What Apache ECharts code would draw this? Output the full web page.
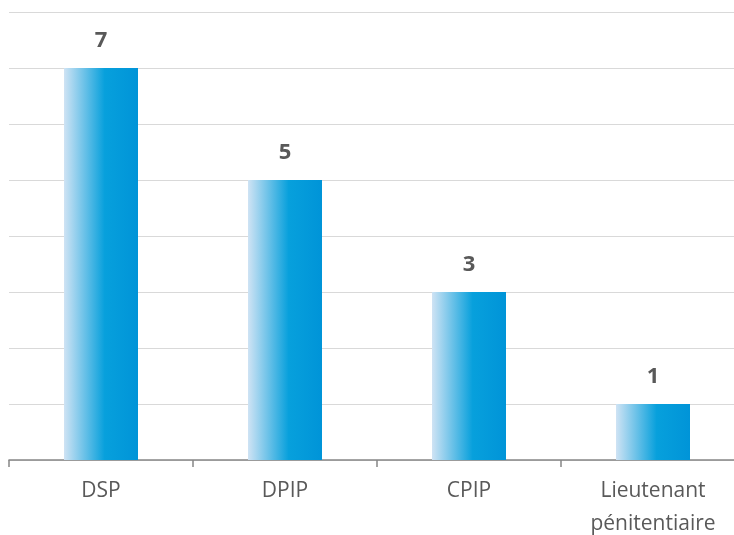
<!DOCTYPE html>
<html><head><meta charset="utf-8">
<script src="https://cdn.jsdelivr.net/npm/echarts@6/dist/echarts.min.js"></script>
<style>html,body{margin:0;padding:0;background:#fff;overflow:hidden}#c{width:734px;height:535px}</style>
</head><body><div id="c"></div>
<script>
const categories = ["DSP", "DPIP", "CPIP", "Lieutenant\npénitentiaire"];
const values = [7, 5, 3, 1];
const yTicks = [0, 1, 2, 3, 4, 5, 6, 7, 8];

const chart = echarts.init(document.getElementById('c'), null, {renderer: 'canvas'});
chart.setOption({
  animation: false,
  grid: {left: 9, top: 12, bottom: 75, width: 736, containLabel: false, outerBoundsMode: 'none'},
  xAxis: {
    type: 'category', data: categories,
    axisLine: {lineStyle: {color: '#868686', width: 1.5}},
    axisTick: {show: true, length: 7, lineStyle: {color: '#868686', width: 1.5}},
    axisLabel: {color: '#595959', fontSize: 21, fontFamily: 'Open Sans', lineHeight: 33, margin: 15}
  },
  yAxis: {
    type: 'value', min: yTicks[0], max: yTicks[yTicks.length - 1], interval: 1,
    axisLine: {show: false}, axisTick: {show: false}, axisLabel: {show: false},
    splitLine: {lineStyle: {color: '#d9d9d9', width: 1}}
  },
  series: [{
    type: 'bar', data: values, barWidth: 74,
    itemStyle: {color: new echarts.graphic.LinearGradient(0, 0, 1, 0, [
      {offset: 0, color: '#cfe3f4'},
      {offset: 0.55, color: '#07a0dc'},
      {offset: 1, color: '#0094d8'}
    ])},
    label: {show: true, position: 'top', distance: 16, color: '#595959', fontSize: 22, fontWeight: 'bold', fontFamily: 'Open Sans'}
  }]
});
</script></body></html>
